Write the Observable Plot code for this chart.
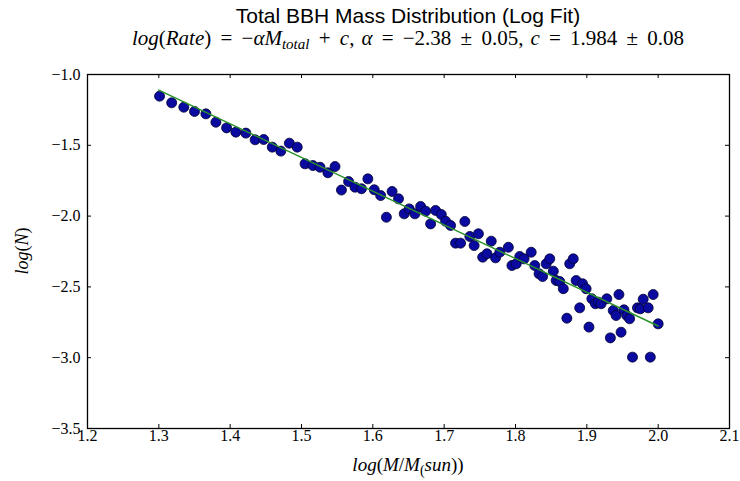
<!DOCTYPE html>
<html>
<head>
<meta charset="utf-8">
<script src="https://cdn.jsdelivr.net/npm/d3@7"></script>
<script src="https://cdn.jsdelivr.net/npm/@observablehq/plot@0.6"></script>
<style>
  html, body { margin: 0; padding: 0; background: #fff; }
</style>
</head>
<body>
<div id="chart"></div>
<script>
// log10 of total mass (x) and log of rate (y)
const logMass = [
  1.301, 1.318, 1.335, 1.350, 1.366, 1.380, 1.395, 1.408, 1.422, 1.435,
  1.447, 1.459, 1.471, 1.483, 1.494, 1.505, 1.516, 1.526, 1.537, 1.547,
  1.556, 1.566, 1.575, 1.584, 1.593, 1.602, 1.611, 1.619, 1.627, 1.636,
  1.644, 1.651, 1.659, 1.667, 1.674, 1.681, 1.688, 1.696, 1.702, 1.709,
  1.716, 1.723, 1.729, 1.736, 1.742, 1.748, 1.754, 1.760, 1.766, 1.772,
  1.778, 1.790, 1.795, 1.801, 1.806, 1.812, 1.822, 1.827, 1.833, 1.838,
  1.843, 1.848, 1.853, 1.857, 1.862, 1.867, 1.872, 1.876, 1.881, 1.885,
  1.890, 1.894, 1.899, 1.903, 1.907, 1.912, 1.916, 1.920, 1.928, 1.933,
  1.937, 1.941, 1.945, 1.948, 1.952, 1.956, 1.960, 1.964, 1.971, 1.975,
  1.979, 1.986, 1.989, 1.993, 2.000
];
const logN = [
  -1.153, -1.200, -1.231, -1.261, -1.278, -1.337, -1.377, -1.407, -1.414, -1.461,
  -1.459, -1.513, -1.541, -1.485, -1.513, -1.631, -1.643, -1.655, -1.694, -1.650,
  -1.816, -1.756, -1.796, -1.807, -1.737, -1.814, -1.855, -2.008, -1.826, -1.878,
  -1.984, -1.949, -1.984, -1.932, -1.965, -2.055, -1.960, -1.989, -2.036, -2.066,
  -2.191, -2.191, -2.038, -2.144, -2.208, -2.125, -2.290, -2.266, -2.177, -2.295,
  -2.255, -2.220, -2.349, -2.337, -2.285, -2.302, -2.255, -2.349, -2.407, -2.427,
  -2.337, -2.302, -2.389, -2.455, -2.462, -2.513, -2.721, -2.337, -2.302, -2.455,
  -2.648, -2.478, -2.513, -2.784, -2.584, -2.619, -2.608, -2.619, -2.584, -2.860,
  -2.667, -2.702, -2.554, -2.820, -2.662, -2.702, -2.725, -2.996, -2.648, -2.655,
  -2.587, -2.648, -2.996, -2.554, -2.761
];
// fitted line endpoints
const fitX = [1.3, 2.0];
const fitY = [-1.110, -2.776];

const xTicks = [1.2, 1.3, 1.4, 1.5, 1.6, 1.7, 1.8, 1.9, 2.0, 2.1];
const xTickLabels = ["1.2", "1.3", "1.4", "1.5", "1.6", "1.7", "1.8", "1.9", "2.0", "2.1"];
const yTicks = [-3.5, -3.0, -2.5, -2.0, -1.5, -1.0];
const yTickLabels = ["−3.5", "−3.0", "−2.5", "−2.0", "−1.5", "−1.0"];

const points = logMass.map((x, i) => ({x, y: logN[i]}));
const fit = fitX.map((x, i) => ({x, y: fitY[i]}));

const W = 740, H = 481;
const mL = 87, mR = 11, mT = 74, mB = 53;
const innerW = W - mL - mR, innerH = H - mT - mB;
const T = 4;

const chart = Plot.plot({
  width: W, height: H,
  marginLeft: mL, marginRight: mR, marginTop: mT, marginBottom: mB,
  style: {fontFamily: "'Liberation Serif', serif", fontSize: "16px", background: "white", color: "black"},
  x: {domain: [1.2, 2.1]},
  y: {domain: [-3.5, -1.0]},
  marks: [
    Plot.tickX(xTicks, {x: d => d, insetTop: innerH - T, stroke: "black", strokeWidth: 1}),
    Plot.tickX(xTicks, {x: d => d, insetBottom: innerH - T, stroke: "black", strokeWidth: 1}),
    Plot.tickY(yTicks, {y: d => d, insetRight: innerW - T, stroke: "black", strokeWidth: 1}),
    Plot.tickY(yTicks, {y: d => d, insetLeft: innerW - T, stroke: "black", strokeWidth: 1}),
    Plot.dot(points, {x: "x", y: "y", r: 5, fill: "#0a0aa0", stroke: "#000030", strokeWidth: 0.8}),
    Plot.line(fit, {x: "x", y: "y", stroke: "#2a922a", strokeWidth: 1.5}),
    Plot.frame({stroke: "black", strokeWidth: 1.3}),
    Plot.axisX(xTicks, {tickSize: 0, tickPadding: 1, label: null, fontSize: 16,
      tickFormat: d => xTickLabels[xTicks.indexOf(d)]}),
    Plot.axisY(yTicks, {tickSize: 0, tickPadding: 7, label: null, fontSize: 16,
      tickFormat: d => yTickLabels[yTicks.indexOf(d)]})
  ]
});

document.getElementById("chart").appendChild(chart);

const svg = d3.select(chart);
const cx = mL + innerW / 2;

svg.append("text")
  .attr("x", cx).attr("y", 23)
  .attr("text-anchor", "middle")
  .style("font-family", "'Liberation Sans', Arial, sans-serif")
  .style("font-size", "21px")
  .attr("fill", "black")
  .text("Total BBH Mass Distribution (Log Fit)");

const sub = svg.append("text")
  .attr("x", cx).attr("y", 45)
  .attr("text-anchor", "middle")
  .style("font-family", "'Liberation Serif', serif")
  .style("font-size", "21px")
  .style("word-spacing", "4px")
  .attr("fill", "black");
const parts = [
  ["log", true], ["(", false], ["Rate", true], [") = −", false], ["αM", true],
  ["total", true, "sub"], [" + ", false], ["c", true], [",\u2004", false], ["α", true],
  [" = −2.38 ± 0.05,\u2004", false], ["c", true], [" = 1.984 ± 0.08", false]
];
let subOn = false;
parts.forEach(([t, it, s]) => {
  const ts = sub.append("tspan").text(t);
  if (it) ts.style("font-style", "italic");
  if (s === "sub") { ts.attr("dy", 4).style("font-size", "15px"); subOn = true; }
  else if (subOn) { ts.attr("dy", -4); subOn = false; }
});

const xl = svg.append("text")
  .attr("x", cx).attr("y", 471)
  .attr("text-anchor", "middle")
  .style("font-family", "'Liberation Serif', serif")
  .style("font-size", "19px")
  .attr("fill", "black");
xl.append("tspan").style("font-style", "italic").text("log");
xl.append("tspan").text("(");
xl.append("tspan").style("font-style", "italic").text("M");
xl.append("tspan").text("/");
xl.append("tspan").style("font-style", "italic").text("M");
xl.append("tspan").attr("dy", 4).style("font-size", "14px").text("(");
xl.append("tspan").attr("dy", -4).style("font-style", "italic").text("sun");
xl.append("tspan").text("))");

const yl = svg.append("text")
  .attr("transform", `translate(28,${mT + innerH / 2}) rotate(-90)`)
  .attr("text-anchor", "middle")
  .style("font-family", "'Liberation Serif', serif")
  .style("font-size", "18px")
  .attr("fill", "black");
yl.append("tspan").style("font-style", "italic").text("log");
yl.append("tspan").text("(");
yl.append("tspan").style("font-style", "italic").text("N");
yl.append("tspan").text(")");
</script>
</body>
</html>
